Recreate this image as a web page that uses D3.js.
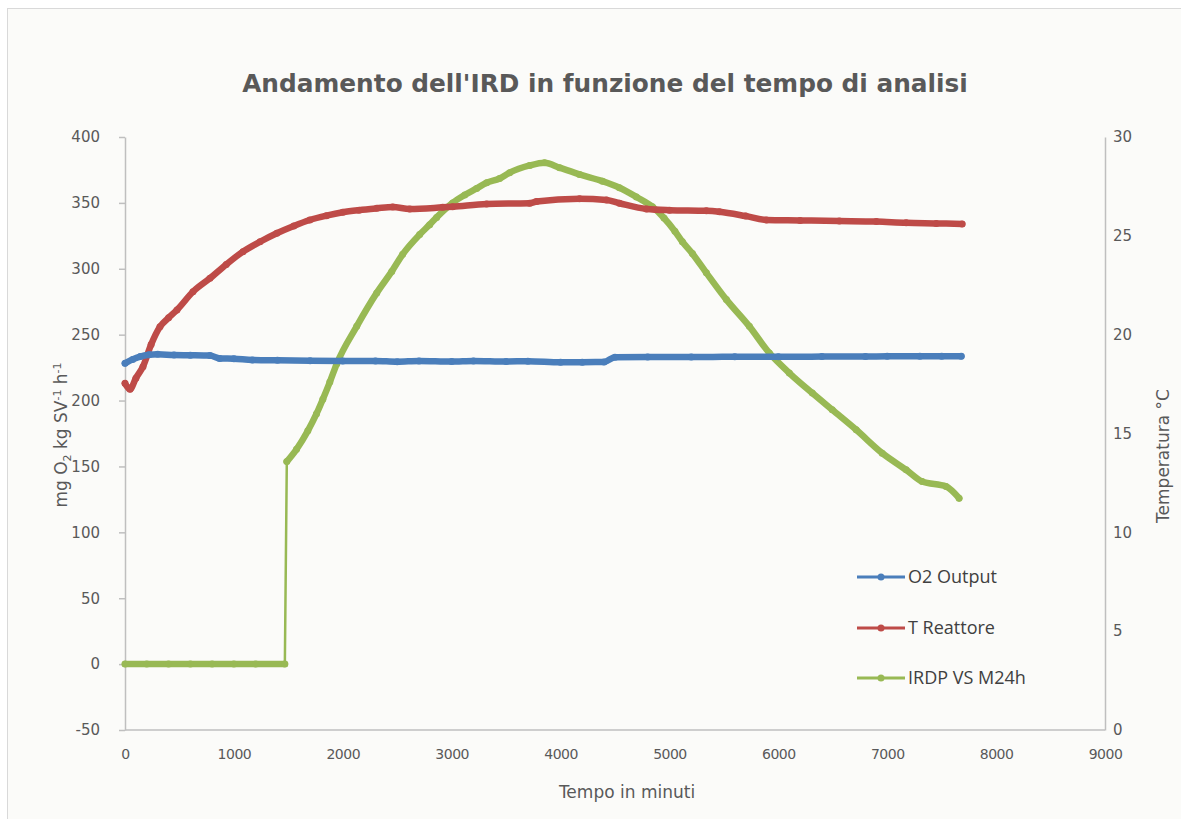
<!DOCTYPE html>
<html>
<head>
<meta charset="utf-8">
<script src="https://cdn.jsdelivr.net/npm/d3@7"></script>
<style>
  body { margin: 0; background: #ffffff; }
  svg text { font-family: "DejaVu Sans", sans-serif; fill: #595959; }
</style>
</head>
<body>
<div id="chart"></div>
<script>
// ---- data ----
const xTicks = [0, 1000, 2000, 3000, 4000, 5000, 6000, 7000, 8000, 9000];
const leftTicks = [-50, 0, 50, 100, 150, 200, 250, 300, 350, 400];
const rightTicks = [0, 5, 10, 15, 20, 25, 30];
const seriesNames = ["O2 Output", "T Reattore", "IRDP VS M24h"];

// O2 Output (right axis)
const o2Time = [0, 70, 140, 220, 300, 450, 600, 780, 870, 1000, 1170, 1400, 1700, 2000, 2300, 2500, 2700, 3000, 3200, 3500, 3700, 4000, 4200, 4400, 4500, 4800, 5200, 5600, 6000, 6400, 6800, 7000, 7300, 7500, 7680];
const o2Value = [18.55, 18.75, 18.89, 18.98, 19.01, 18.97, 18.96, 18.94, 18.80, 18.78, 18.72, 18.70, 18.68, 18.67, 18.67, 18.63, 18.67, 18.64, 18.67, 18.64, 18.66, 18.60, 18.61, 18.62, 18.86, 18.87, 18.87, 18.88, 18.88, 18.89, 18.89, 18.91, 18.91, 18.91, 18.91];

// T Reattore (right axis)
const tempTime = [0, 46, 100, 165, 240, 321, 400, 477, 624, 780, 930, 1083, 1240, 1394, 1550, 1697, 1850, 2000, 2150, 2312, 2459, 2615, 2917, 3009, 3321, 3716, 3780, 4174, 4422, 4541, 4789, 5000, 5339, 5459, 5700, 5890, 6200, 6560, 6900, 7174, 7450, 7688];
const tempValue = [17.54, 17.24, 17.80, 18.38, 19.50, 20.40, 20.85, 21.25, 22.17, 22.85, 23.55, 24.20, 24.70, 25.13, 25.50, 25.80, 26.02, 26.19, 26.30, 26.39, 26.46, 26.36, 26.44, 26.47, 26.61, 26.65, 26.74, 26.88, 26.81, 26.65, 26.36, 26.30, 26.27, 26.22, 26.00, 25.80, 25.78, 25.75, 25.72, 25.66, 25.63, 25.60];

// IRDP VS M24h (left axis)
const irdTime = [0, 200, 400, 600, 800, 1000, 1200, 1468, 1486, 1575, 1679, 1759, 1817, 1881, 1945, 2128, 2312, 2450, 2550, 2706, 2798, 2862, 3009, 3120, 3229, 3321, 3440, 3532, 3716, 3853, 3991, 4174, 4385, 4541, 4697, 4844, 4950, 5050, 5119, 5211, 5339, 5523, 5734, 5917, 6101, 6312, 6495, 6715, 6954, 7174, 7321, 7541, 7660];
const irdValue = [0, 0, 0, 0, 0, 0, 0, 0, 153.7, 163.0, 177.0, 190.0, 201.0, 214.0, 228.0, 256.3, 281.7, 298.0, 311.0, 326.0, 333.5, 339.0, 350.0, 356.0, 361.0, 365.3, 368.5, 372.9, 378.4, 380.5, 376.7, 371.6, 366.5, 361.5, 354.5, 347.0, 338.5, 328.5, 320.5, 311.5, 296.9, 276.6, 256.3, 236.1, 220.9, 205.7, 193.0, 177.8, 160.1, 147.4, 138.5, 134.7, 125.9];

const colours = ["#4a7ebb", "#be4b48", "#98b954"];

// ---- layout ----
const W = 1181, H = 819;
const plot = {left: 125, right: 1105, top: 137, bottom: 730};

const svg = d3.select("#chart").append("svg")
    .attr("width", W)
    .attr("height", H);

svg.append("rect")
    .attr("x", 7.5).attr("y", 8.5)
    .attr("width", W).attr("height", H)
    .attr("fill", "#fbfbf9")
    .attr("stroke", "#d9d9d9");

const x = d3.scaleLinear().domain([0, 9000]).range([plot.left, plot.right]);
const yLeft = d3.scaleLinear().domain([-50, 400]).range([plot.bottom, plot.top]);
const yRight = d3.scaleLinear().domain([0, 30]).range([plot.bottom, plot.top]);

// axes
const plain = d => String(d);
const gx = svg.append("g")
    .attr("transform", `translate(0,${plot.bottom})`)
    .call(d3.axisBottom(x).tickValues(xTicks).tickSize(0).tickPadding(19).tickFormat(plain));

const gl = svg.append("g")
    .attr("transform", `translate(${plot.left},0)`)
    .call(d3.axisLeft(yLeft).tickValues(leftTicks).tickSize(6).tickPadding(19).tickSizeOuter(0).tickFormat(plain));

const gr = svg.append("g")
    .attr("transform", `translate(${plot.right},0)`)
    .call(d3.axisRight(yRight).tickValues(rightTicks).tickSize(0).tickPadding(8).tickFormat(plain));

[gx, gl, gr].forEach(g => {
    g.select(".domain").attr("stroke", "#bfbfbf").attr("stroke-width", 1.5);
    g.selectAll(".tick line").attr("stroke", "#bfbfbf").attr("stroke-width", 1.5);
    g.selectAll(".tick text").attr("fill", "#595959")
        .style("font-family", "DejaVu Sans").style("font-size", "15px");
});
gx.selectAll(".tick text").style("font-size", "14px").attr("letter-spacing", "-0.5");
gx.select(".domain").attr("d", `M${plot.left},0H${plot.right}`);

// series
function drawSeries(times, values, yScale, colour) {
    const pts = times.map((t, i) => [x(t), yScale(values[i])]);
    const g = svg.append("g");
    g.append("path")
        .attr("d", d3.line()(pts))
        .attr("fill", "none")
        .attr("stroke", colour)
        .attr("stroke-width", 2.5);
    // dense markers merge into a band; split at big jumps
    let segs = [[pts[0]]];
    for (let i = 1; i < pts.length; i++) {
        if (Math.abs(pts[i][1] - pts[i - 1][1]) > 60) segs.push([]);
        segs[segs.length - 1].push(pts[i]);
    }
    segs.forEach(s => {
        g.append("path")
            .attr("d", d3.line().curve(d3.curveMonotoneX)(s))
            .attr("fill", "none")
            .attr("stroke", colour)
            .attr("stroke-width", 6.5)
            .attr("stroke-linecap", "round")
            .attr("stroke-linejoin", "round");
    });
    g.selectAll("circle")
        .data(pts)
        .join("circle")
        .attr("cx", d => d[0])
        .attr("cy", d => d[1])
        .attr("r", 3.5)
        .attr("fill", colour);
}

drawSeries(irdTime, irdValue, yLeft, colours[2]);
drawSeries(tempTime, tempValue, yRight, colours[1]);
drawSeries(o2Time, o2Value, yRight, colours[0]);

// title
svg.append("text")
    .attr("x", 605).attr("y", 92)
    .attr("text-anchor", "middle")
    .style("font-size", "24.8px")
    .style("font-weight", "bold")
    .text("Andamento dell'IRD in funzione del tempo di analisi");

// axis titles
svg.append("text")
    .attr("x", 627).attr("y", 798)
    .attr("text-anchor", "middle")
    .style("font-size", "17px")
    .text("Tempo in minuti");

const lt = svg.append("text")
    .attr("transform", "translate(67,435) rotate(-90)")
    .attr("text-anchor", "middle")
    .style("font-size", "17px");
lt.append("tspan").text("mg O");
lt.append("tspan").attr("dy", 4).style("font-size", "11px").text("2");
lt.append("tspan").attr("dy", -4).text(" kg SV");
lt.append("tspan").attr("dy", -6).style("font-size", "11px").text("-1");
lt.append("tspan").attr("dy", 6).text(" h");
lt.append("tspan").attr("dy", -6).style("font-size", "11px").text("-1");

svg.append("text")
    .attr("transform", "translate(1169,456) rotate(-90)")
    .attr("text-anchor", "middle")
    .style("font-size", "17px")
    .text("Temperatura °C");

// legend
const legY = [577, 628, 678];
const leg = svg.append("g");
seriesNames.forEach((name, i) => {
    leg.append("line")
        .attr("x1", 857).attr("x2", 905)
        .attr("y1", legY[i]).attr("y2", legY[i])
        .attr("stroke", colours[i]).attr("stroke-width", 3);
    leg.append("circle")
        .attr("cx", 881).attr("cy", legY[i]).attr("r", 3.5)
        .attr("fill", colours[i]);
    leg.append("text")
        .attr("x", 908).attr("y", legY[i] + 6)
        .style("font-family", "Open Sans")
        .style("font-size", "18px")
        .style("fill", "#404040")
        .text(name);
});
</script>
</body>
</html>
